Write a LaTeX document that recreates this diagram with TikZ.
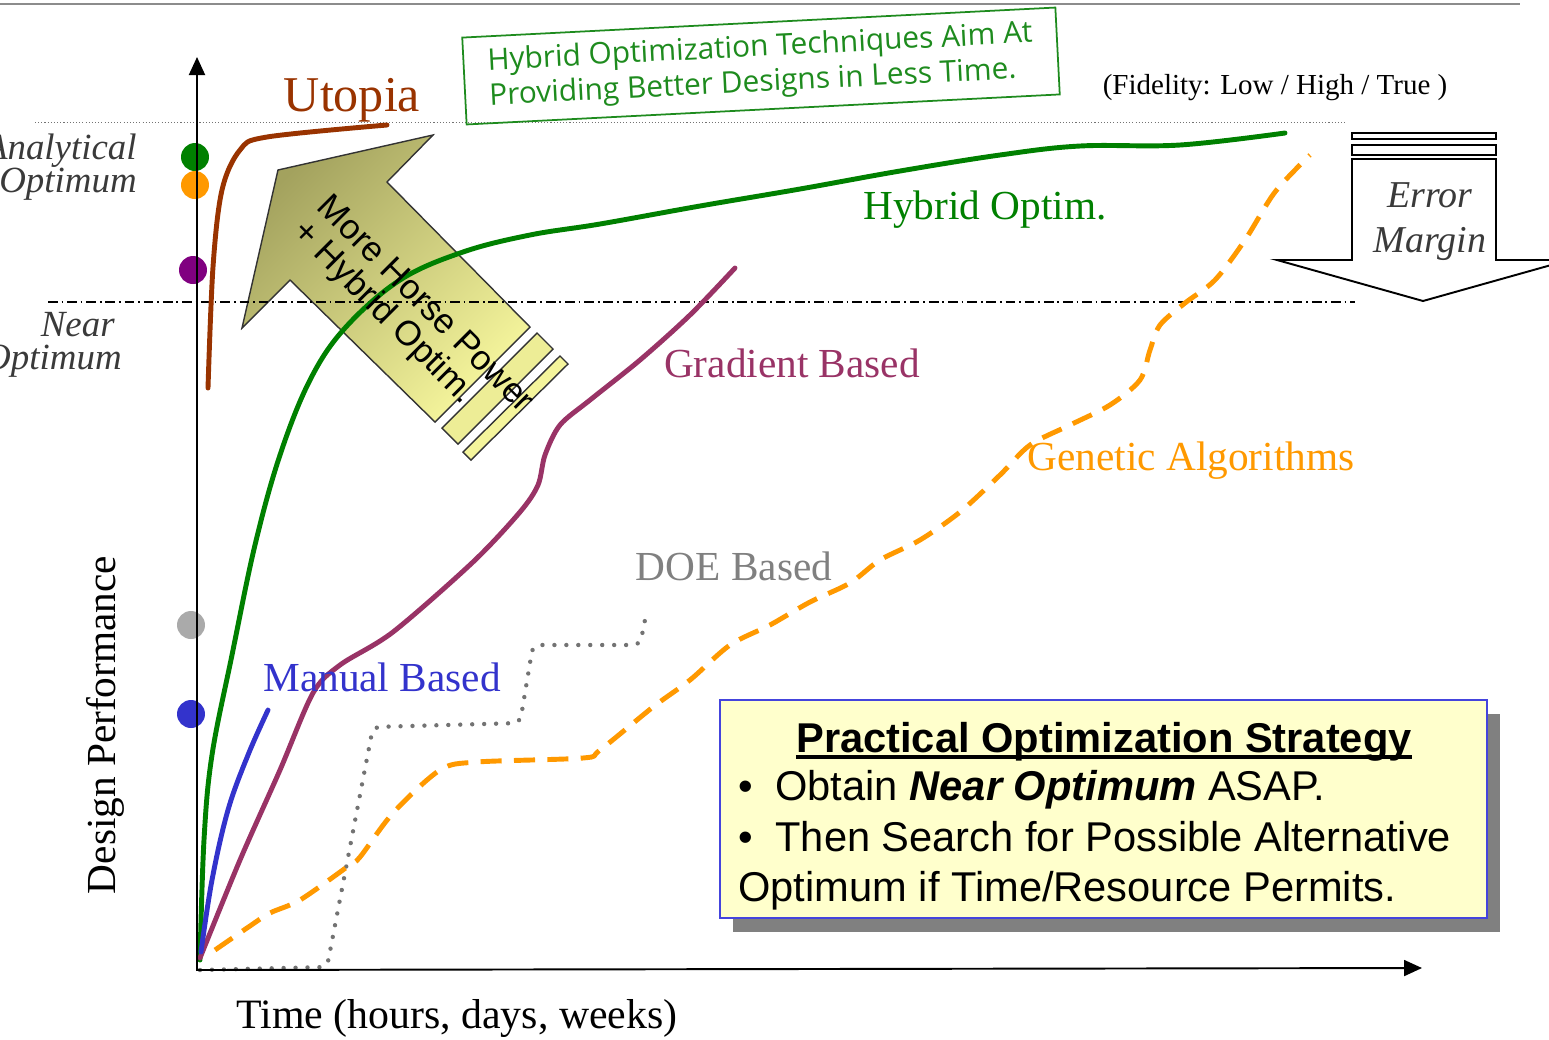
\documentclass[tikz,border=0pt]{standalone}
\usepackage{fontspec}
\setmainfont{Liberation Serif}
\setsansfont{Liberation Sans}
\newfontfamily\handfont{Open Sans}
\usetikzlibrary{arrows.meta,shadows}

\definecolor{utopiabrown}{HTML}{993300}
\definecolor{hybgreen}{HTML}{008000}
\definecolor{gradred}{HTML}{993366}
\definecolor{manblue}{HTML}{3333CC}
\definecolor{gaorange}{HTML}{FF9900}
\definecolor{doegray}{HTML}{808080}
\definecolor{dotgray}{HTML}{AAAAAA}
\definecolor{optpurple}{HTML}{800080}
\definecolor{textgray}{HTML}{3A3A3A}
\definecolor{boxyellow}{HTML}{FFFFCC}
\definecolor{boxblue}{HTML}{4444DD}
\definecolor{boxgreen}{HTML}{1E8B1E}
\definecolor{arrowdark}{HTML}{A3A25E}
\definecolor{arrowlight}{HTML}{F5F59C}

\tikzset{
  curve/.style={line width=2.8pt, line cap=round, line join=round},
  lbl/.style={inner sep=0pt, font=\fontsize{23.5}{28}\selectfont},
  sidelbl/.style={inner sep=0pt, align=right, text=textgray, font=\fontsize{21}{18.8}\selectfont\itshape},
  optdot/.style={circle, inner sep=0pt, minimum size=0.56cm},
  axis/.style={line width=1.1pt, -{Triangle[length=0.36cm, width=0.32cm]}},
  stratline/.style={inner sep=0pt, anchor=base west, font=\sffamily\fontsize{23.7}{28}\selectfont},
}

\begin{document}
\begin{tikzpicture}[x=0.02cm, y=-0.02cm]
\clip (0,0) rectangle (1549,1039);

% frame lines
\draw[black!45, line width=1.6pt] (0,4) -- (1520,4);
\draw[black!55, line width=0.5pt, dash pattern=on 0.6pt off 1.2pt] (35,122) -- (1345,122);

% big arrow
\shade[draw=black!80, line width=0.8pt, top color=arrowdark, bottom color=arrowlight, shading angle=45]
  (278,170) -- (433,135) -- (387,182) -- (530,327) -- (435,422) -- (290,280) -- (242,328) -- cycle;
\draw[draw=black!80, line width=0.8pt, fill=arrowlight!90!arrowdark] (537,333) -- (553,349) -- (458,444) -- (442,428) -- cycle;
\draw[draw=black!80, line width=0.8pt, fill=arrowlight] (560,356) -- (568,364) -- (471,460) -- (463,452) -- cycle;

\draw[line width=1.1pt, dash pattern=on 5.5pt off 2.2pt on 1pt off 2.2pt] (48,302) -- (1355,302);

% optimum dots
\node (dotHyb) [optdot, fill=hybgreen] at (195,157) {};
\node (dotGA) [optdot, fill=gaorange] at (195,185) {};
\node (dotGrad) [optdot, fill=optpurple] at (193,270) {};
\node (dotDOE) [optdot, fill=dotgray] at (191,625) {};
\node (dotMan) [optdot, fill=manblue] at (191,714) {};

% curves
\draw[curve, utopiabrown] plot[smooth, tension=0.55] coordinates {(208,388) (213,267) (222,190) (240,150) (267,137) (387,125)};
\draw[curve, hybgreen] plot[smooth, tension=0.6] coordinates {(200,960) (204,840) (212,755) (232,655) (255,545) (280,455) (310,380) (345,328) (400,280) (463,252) (530,235) (600,224) (700,206) (800,189) (900,171) (1000,155) (1080,146) (1180,145) (1285,133)};
\draw[curve, gradred] plot[smooth, tension=0.5] coordinates {(200,958) (240,860) (280,770) (313,693) (340,665) (393,632) (473,562) (520,512) (538,485) (545,455) (560,425) (590,400) (640,360) (690,315) (735,268)};
\draw[curve, manblue] plot[smooth, tension=0.6] coordinates {(201,952) (212,880) (228,810) (248,755) (268,710)};
\draw[black!55, line width=2.5pt, line cap=round, dash pattern=on 0pt off 6.8pt, rounded corners=4pt]
  (200,970) -- (327,967) -- (373,727) -- (520,723) -- (533,645) -- (640,645) -- (647,610);
\draw[curve, gaorange, line cap=butt, dash pattern=on 12pt off 7pt] plot[smooth, tension=0.5] coordinates {(215,950) (247,928) (270,913) (300,900) (347,867) (360,857) (393,813) (440,770) (477,762) (583,758) (600,750) (653,707) (690,680) (730,645) (770,625) (810,602) (850,583) (880,560) (920,540) (960,512) (1000,475) (1030,445) (1070,425) (1110,405) (1140,380) (1150,350) (1160,325) (1185,303) (1215,280) (1245,240) (1275,192) (1310,155)};

% axes
\coordinate (O) at (197,970);
\coordinate (ytop) at (197,57);
\coordinate (xend) at (1422,968);
\draw[axis] (O) -- (ytop);
\draw[axis] ([xshift=-0.5pt]O) -- (xend);

% error margin arrow
\draw[line width=1.1pt, fill=white] (1352,159) -- (1496,159) -- (1496,260) -- (1569,260) -- (1423,301) -- (1277,260) -- (1352,260) -- cycle;
\draw[line width=1.1pt] (1352,133) rectangle (1496,139);
\draw[line width=1.1pt] (1352,145) rectangle (1496,155);
\node (errtext) [inner sep=0pt, align=center, text=textgray, font=\fontsize{21.6}{25.6}\selectfont\itshape] at (1430,222) {Error\\Margin};

% labels
\node (utopia) [lbl, text=utopiabrown, font=\fontsize{28.5}{32}\selectfont] at (352,100) {Utopia};
\node (hyblbl) [lbl, text=hybgreen] at (985,210) {Hybrid Optim.};
\node (gradlbl) [lbl, text=gradred] at (792,363) {Gradient Based};
\node (galbl) [lbl, text=gaorange] at (1191,461) {Genetic Algorithms};
\node (doelbl) [lbl, text=doegray] at (734,566) {DOE Based};
\node (manlbl) [lbl, text=manblue] at (382,677) {Manual Based};
\node (ylabel) [lbl, rotate=90] at (105,725) {Design Performance};
\node (xlabel) [lbl, font=\fontsize{23.8}{28}\selectfont] at (457,1018) {Time (hours, days, weeks)};
\node (fidelity) [inner sep=0pt, font=\fontsize{16.5}{19}\selectfont] at (1275,88) {(Fidelity: Low / High / True )};
\node (analyt) [sidelbl, anchor=east] at (137,167) {Analytical\\Optimum};
\node (nearopt) [sidelbl, anchor=east] at (122,345) {Near\hspace*{0.14cm}\\Optimum};
\node (arrowtext) [inner sep=0pt, align=left, rotate=-45, font=\sffamily\fontsize{19.8}{20}\selectfont] at (412,318) {More Horse Power\\+ Hybrid Optim.};

% aim box
\node (aimbox) [draw=boxgreen, line width=1pt, rotate=2.9, minimum width=11.88cm, minimum height=1.74cm, align=left, text=boxgreen, font=\handfont\fontsize{17}{20}\selectfont] at (761,66) {Hybrid Optimization Techniques Aim At\\Providing Better Designs in Less Time.};

% strategy box
\node (strat) [draw=boxblue, line width=0.8pt, fill=boxyellow, minimum width=15.34cm, minimum height=4.36cm, drop shadow={shadow xshift=0.26cm, shadow yshift=-0.28cm, fill=black!50, opacity=1}] at (1103.5,809) {};
\node (strattitle) [inner sep=0pt, anchor=base, font=\sffamily\bfseries\fontsize{23.7}{28}\selectfont] at (1104,752) {Practical Optimization Strategy};
\draw[line width=2.2pt] ([yshift=-0.1cm]strattitle.base west) -- ([yshift=-0.1cm]strattitle.base east);
\node (stratA) [stratline] at (738,800) {\textbullet\hspace{0.45cm}Obtain \textbf{\textit{Near Optimum}} ASAP.};
\node (stratB) [stratline] at (738,851) {\textbullet\hspace{0.45cm}Then Search for Possible Alternative};
\node (stratC) [stratline] at (738,901) {Optimum if Time/Resource Permits.};
\end{tikzpicture}
\end{document}
